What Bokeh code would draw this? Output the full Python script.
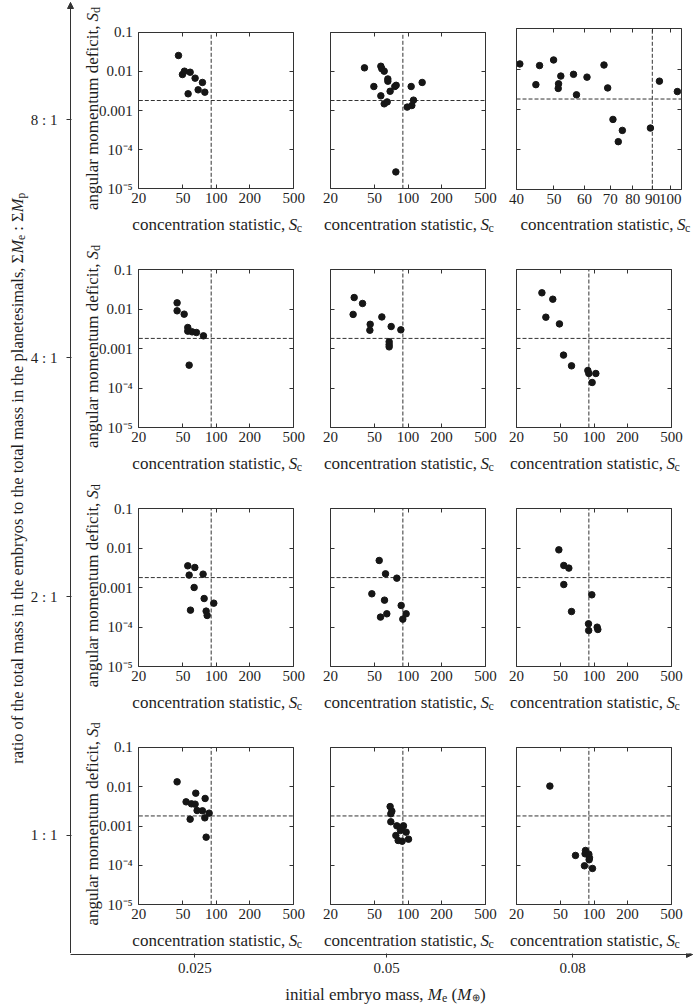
import math
from bokeh.plotting import figure
from bokeh.models import Range1d, FixedTicker, LogAxis, Arrow, NormalHead
from bokeh.core.properties import value
from bokeh.layouts import row, column
from bokeh.embed import file_html
from bokeh.resources import INLINE

FONT = "Liberation Serif"
AX = "#333333"
TXT = "#1e1e1e"
DOT = "#161616"
TICK_FS = "15px"
LAB_FS = "17px"
SUB_FS = "12px"
OUT_FS = "16.5px"
OUT_SUB_FS = "11.5px"

# ---------------- data ----------------
ratios = ["8 : 1", "4 : 1", "2 : 1", "1 : 1"]
masses = ["0.025", "0.05", "0.08"]
sc_ticks = [20, 50, 100, 200, 500]
sc_ticks_zoom = [40, 50, 60, 70, 80, 90, 100]
sd_ticks = [1e-5, 1e-4, 1e-3, 1e-2, 1e-1]
sd_tick_labels = ["10⁻⁵", "10⁻⁴", "0.001", "0.01", "0.1"]
sc_range = [20, 500]
sc_range_zoom = [40, 107]
sd_range = [1e-5, 0.1]
sc_solar = 89.9
sd_solar = 0.0018

# ratio 8:1
sc_8_025 = [45.6, 49.5, 51.6, 58.1, 64.4, 75.0, 55.7, 68.6, 78.8]
sd_8_025 = [0.0254, 0.0083, 0.0101, 0.0095, 0.0067, 0.0052, 0.00267, 0.00337, 0.00294]
sc_8_05 = [40.5, 56.9, 58.1, 61.0, 65.8, 65.8, 49.2, 69.0, 76.0, 78.2, 56.9, 61.0, 64.9,
           106.8, 134.2, 98.3, 108.3, 112.1, 77.7]
sd_8_05 = [0.0123, 0.0135, 0.0116, 0.0101, 0.0064, 0.0056, 0.0041, 0.0031, 0.0041, 0.0044,
           0.00237, 0.00148, 0.00166, 0.0041, 0.0052, 0.00122, 0.00134, 0.00184, 2.7e-5]
sc_8_08 = [40.8, 45.9, 49.9, 44.9, 52.1, 56.2, 60.9, 51.4, 51.3, 57.2, 67.4, 68.9, 93.8,
           104.4, 71.1, 75.2, 73.4, 88.9]
sd_8_08 = [0.0134, 0.0122, 0.0168, 0.0041, 0.0067, 0.0074, 0.0063, 0.0043, 0.0033, 0.00229,
           0.0126, 0.0034, 0.0050, 0.00276, 0.00056, 0.000299, 0.000157, 0.000342]
# ratio 4:1
sc_4_025 = [44.3, 44.3, 51.3, 55.3, 55.3, 60.5, 66.2, 76.6, 56.9]
sd_4_025 = [0.0143, 0.0090, 0.0074, 0.0034, 0.00275, 0.00264, 0.00254, 0.00209, 0.000379]
sc_4_05 = [32.7, 38.9, 32.0, 58.1, 45.6, 45.3, 70.5, 86.2, 67.6, 67.6, 67.6]
sd_4_05 = [0.0195, 0.0138, 0.0073, 0.0063, 0.0041, 0.0029, 0.0036, 0.00297, 0.00148, 0.00126, 0.00110]
sc_4_08 = [33.9, 42.5, 36.8, 48.8, 53.1, 62.7, 88.0, 89.8, 103.9, 96.2]
sd_4_08 = [0.0257, 0.0177, 0.0062, 0.0042, 0.00068, 0.000364, 0.000277, 0.000233, 0.000233, 0.000138]
# ratio 2:1
sc_2_025 = [55.3, 64.0, 56.9, 76.0, 63.1, 77.7, 94.9, 58.5, 81.0, 82.7]
sd_2_025 = [0.00358, 0.00325, 0.00208, 0.00220, 0.00101, 0.00053, 0.000404, 0.000269, 0.000254, 0.000197]
sc_2_05 = [55.0, 62.7, 79.3, 47.2, 61.4, 86.8, 56.5, 64.4, 96.2, 89.8]
sd_2_05 = [0.00489, 0.00224, 0.00174, 0.000698, 0.000482, 0.000353, 0.000179, 0.000217, 0.000217, 0.000159]
sc_2_08 = [48.2, 53.4, 59.3, 53.4, 95.6, 62.7, 89.2, 89.5, 106.8, 108.3]
sd_2_08 = [0.0091, 0.00365, 0.00313, 0.00120, 0.000658, 0.000248, 0.000121, 0.0000819, 0.0000995, 0.0000869]
# ratio 1:1
sc_1_025 = [44.3, 65.3, 79.3, 53.4, 59.7, 64.4, 67.1, 75.0, 86.2, 58.1, 78.8, 81.0]
sd_1_025 = [0.0132, 0.0068, 0.0050, 0.0041, 0.00365, 0.00358, 0.00247, 0.00243, 0.00212, 0.00149,
            0.00161, 0.000521]
sc_1_05 = [69.0, 71.5, 70.0, 70.0, 79.3, 91.0, 85.5, 96.2, 77.7, 81.5, 88.5, 101.1, 86.5]
sd_1_05 = [0.00311, 0.00238, 0.00204, 0.00128, 0.00101, 0.00101, 0.000769, 0.000698, 0.000574,
           0.000429, 0.000412, 0.000463, 0.00088]
sc_1_08 = [40.0, 68.1, 83.8, 83.1, 89.8, 91.0, 90.4, 82.0, 96.9]
sd_1_08 = [0.0103, 0.000179, 0.000239, 0.000197, 0.000193, 0.000156, 0.000139, 0.0000977, 0.0000836]

panel_data = [
    [(sc_8_025, sd_8_025), (sc_8_05, sd_8_05), (sc_8_08, sd_8_08)],
    [(sc_4_025, sd_4_025), (sc_4_05, sd_4_05), (sc_4_08, sd_4_08)],
    [(sc_2_025, sd_2_025), (sc_2_05, sd_2_05), (sc_2_08, sd_2_08)],
    [(sc_1_025, sd_1_025), (sc_1_05, sd_1_05), (sc_1_08, sd_1_08)],
]

# ---------------- layout (page pixels) ----------------
W, H = 695, 1005
LEFT_W = 78
COL_CANVAS = [(78, 310), (310, 500), (500, 695)]
COL_BOX = [(138.3, 293.3), (330.0, 485.0), (516.0, 671.0)]
ROW_CANVAS = [(0, 242), (242, 481), (481, 720), (720, 953)]
ROW_BOX = [(31.7, 188.3), (269.0, 427.0), (508.3, 666.0), (746.7, 904.3)]
SPECIAL = (0, 2)
SPECIAL_BOX = ((516.0, 681.0), (28.3, 189.3))
GRID_H = ROW_CANVAS[-1][1]
AXIS_X = 70.0      # outer vertical axis
AXIS_Y = 954.0     # outer horizontal axis
ARROW_TOP = 2.0
ARROW_RIGHT = 692.0


def style_axis(ax, tin=4, tout=0, standoff=4):
    ax.major_tick_in = tin
    ax.major_tick_out = tout
    ax.minor_tick_line_color = None
    ax.axis_line_color = AX
    ax.major_tick_line_color = AX
    ax.major_label_text_font = FONT
    ax.major_label_text_font_size = TICK_FS
    ax.major_label_text_color = TXT
    ax.major_label_standoff = standoff


def text(p, xs, ys, t, size=LAB_FS, style="normal", align="left", angle=0.0):
    p.text(x=[xs], y=[ys], text=[t], text_font=value(FONT), text_font_size=size,
           text_font_style=style, text_color=TXT, text_align=align,
           text_baseline="alphabetic", angle=angle)


def make_panel(ri, ci):
    special = (ri, ci) == SPECIAL
    (cx0, cx1), (cy0, cy1) = COL_CANVAS[ci], ROW_CANVAS[ri]
    if special:
        (bx0, bx1), (by0, by1) = SPECIAL_BOX
        xr, xt = sc_range_zoom, sc_ticks_zoom
    else:
        (bx0, bx1), (by0, by1) = COL_BOX[ci], ROW_BOX[ri]
        xr, xt = sc_range, sc_ticks
    lx0, lx1 = math.log10(xr[0]), math.log10(xr[1])
    ly0, ly1 = math.log10(sd_range[0]), math.log10(sd_range[1])
    kx = (bx1 - bx0) / (lx1 - lx0)
    ky = (by1 - by0) / (ly1 - ly0)
    x_start = 10 ** (lx0 - (bx0 - cx0) / kx)
    x_end = 10 ** (lx1 + (cx1 - bx1) / kx)
    y_start = 10 ** (ly0 - (cy1 - by1) / ky)
    y_end = 10 ** (ly1 + (by0 - cy0) / ky)

    def dx(px):
        return 10 ** (lx0 + (px - bx0) / kx)

    def dy(py):
        return 10 ** (ly0 + (by1 - py) / ky)

    p = figure(width=cx1 - cx0, height=cy1 - cy0, x_axis_type="log", y_axis_type="log",
               x_range=Range1d(x_start, x_end), y_range=Range1d(y_start, y_end),
               min_border=0, min_border_left=0, min_border_right=0, min_border_top=0,
               min_border_bottom=0, toolbar_location=None, output_backend="svg")
    p.grid.visible = False
    p.outline_line_color = None
    p.background_fill_color = "white"
    p.border_fill_color = "white"

    xa = p.xaxis[0]
    xa.ticker = FixedTicker(ticks=xt)
    xa.major_label_overrides = {t: str(t) for t in xt}
    xa.fixed_location = sd_range[0]
    xa.bounds = (xr[0], xr[1])
    style_axis(xa, standoff=4)

    ya = p.yaxis[0]
    ya.ticker = FixedTicker(ticks=sd_ticks)
    if ci == 0:
        ya.major_label_overrides = dict(zip(sd_ticks, sd_tick_labels))
    else:
        ya.major_label_overrides = {t: "" for t in sd_ticks}
    ya.fixed_location = xr[0]
    ya.bounds = (sd_range[0], sd_range[1])
    style_axis(ya, standoff=6)

    top = LogAxis(ticker=FixedTicker(ticks=xt), major_label_overrides={t: "" for t in xt},
                  fixed_location=sd_range[1], bounds=(xr[0], xr[1]))
    style_axis(top, standoff=0)
    p.add_layout(top, "above")
    right = LogAxis(ticker=FixedTicker(ticks=sd_ticks), major_label_overrides={t: "" for t in sd_ticks},
                    fixed_location=xr[1], bounds=(sd_range[0], sd_range[1]))
    style_axis(right, standoff=0)
    p.add_layout(right, "right")

    # solar-system reference values
    p.segment(x0=[sc_solar], y0=[sd_range[0]], x1=[sc_solar], y1=[sd_range[1]],
              line_color=AX, line_dash="4 2", line_width=1)
    p.segment(x0=[xr[0]], y0=[sd_solar], x1=[xr[1]], y1=[sd_solar],
              line_color=AX, line_dash="4 2", line_width=1)

    sc, sd = panel_data[ri][ci]
    p.scatter(sc, sd, size=6.5, fill_color=DOT, line_color=DOT)

    # x label: concentration statistic, S_c
    xc = (bx0 + bx1) / 2 + (5.5 if special else 0)
    base = by1 + (35.0 if special else 36.0)
    text(p, dx(xc + 69), dy(base), "concentration statistic,", align="right")
    text(p, dx(xc + 72.5), dy(base), "S", style="italic")
    text(p, dx(xc + 80.5), dy(base + 3.5), "c", size=SUB_FS)

    # y label: angular momentum deficit, S_d
    if ci == 0:
        yc = (by0 + by1) / 2
        bx = bx0 - 46
        text(p, dx(bx), dy(yc - 85), "angular momentum deficit,", align="right", angle=math.pi / 2)
        text(p, dx(bx), dy(yc - 89), "S", style="italic", angle=math.pi / 2)
        text(p, dx(bx + 3.5), dy(yc - 97.5), "d", size=SUB_FS, angle=math.pi / 2)
    return p


panels = [[make_panel(r, c) for c in range(3)] for r in range(4)]

# ---------------- outer category axes ----------------
row_ticks = [GRID_H - ((b0 + b1) / 2 + 9.0) for (b0, b1) in ROW_BOX]   # data y = GRID_H - page y
col_ticks = [(b0 + b1) / 2 - 21.5 for (b0, b1) in COL_BOX]

left = figure(width=LEFT_W, height=GRID_H, x_range=Range1d(0, LEFT_W), y_range=Range1d(0, GRID_H),
              min_border=0, min_border_left=0, min_border_right=0, min_border_top=0,
              min_border_bottom=0, x_axis_location=None, toolbar_location=None,
              output_backend="svg")
left.grid.visible = False
left.outline_line_color = None
left.border_fill_color = "white"
la = left.yaxis[0]
la.ticker = FixedTicker(ticks=row_ticks)
la.major_label_overrides = dict(zip(row_ticks, ratios))
la.fixed_location = AXIS_X
la.bounds = (0, GRID_H - ARROW_TOP)
style_axis(la, tin=1, tout=4, standoff=9)
left.add_layout(Arrow(end=NormalHead(size=6, fill_color=AX, line_color=AX, line_width=1),
                      x_start=AXIS_X, y_start=GRID_H - ARROW_TOP - 20, x_end=AXIS_X,
                      y_end=GRID_H - ARROW_TOP, line_color=AX, line_width=1))


# vertical outer title, composed so that M is italic and e, p are subscripts (page coords)
def ly(py):
    return GRID_H - py


VX = 17.0
ang = math.pi / 2
text(left, VX, ly(267), "ratio of the total mass in the embryos to the total mass in the planetesimals,",
     size=OUT_FS, align="right", angle=ang)
text(left, VX, ly(262.9), "Σ", size=OUT_FS, angle=ang)
text(left, VX, ly(253.1), "M", size=OUT_FS, style="italic", angle=ang)
text(left, VX + 3.5, ly(239.4), "e", size=OUT_SUB_FS, angle=ang)
text(left, VX, ly(230.2), ":", size=OUT_FS, angle=ang)
text(left, VX, ly(221.5), "Σ", size=OUT_FS, angle=ang)
text(left, VX, ly(211.7), "M", size=OUT_FS, style="italic", angle=ang)
text(left, VX + 3.5, ly(198.0), "p", size=OUT_SUB_FS, angle=ang)

BOT_H = H - GRID_H
bottom = figure(width=W, height=BOT_H, x_range=Range1d(0, W), y_range=Range1d(0, BOT_H),
                min_border=0, min_border_left=0, min_border_right=0, min_border_top=0,
                min_border_bottom=0, y_axis_location=None, toolbar_location=None,
                output_backend="svg")
bottom.grid.visible = False
bottom.outline_line_color = None
bottom.border_fill_color = "white"
ba = bottom.xaxis[0]
ba.ticker = FixedTicker(ticks=col_ticks)
ba.major_label_overrides = dict(zip(col_ticks, masses))
ba.fixed_location = H - AXIS_Y
ba.bounds = (AXIS_X, ARROW_RIGHT)
style_axis(ba, tin=4, tout=3, standoff=5)
bottom.add_layout(Arrow(end=NormalHead(size=6, fill_color=AX, line_color=AX, line_width=1),
                        x_start=ARROW_RIGHT - 20, y_start=H - AXIS_Y, x_end=ARROW_RIGHT,
                        y_end=H - AXIS_Y, line_color=AX, line_width=1))


# horizontal outer title "initial embryo mass, M_e (M_⊕)"
def by(py):
    return H - py


BASE = 993.5
text(bottom, 423, by(BASE), "initial embryo mass,", size=LAB_FS, align="right")
text(bottom, 427.3, by(BASE), "M", size=LAB_FS, style="italic")
text(bottom, 441.5, by(BASE + 3.5), "e", size=SUB_FS)
text(bottom, 451, by(BASE), "(", size=LAB_FS)
text(bottom, 456.7, by(BASE), "M", size=LAB_FS, style="italic")
text(bottom, 471, by(BASE + 3.5), "⊕", size="10px")
text(bottom, 479.5, by(BASE), ")", size=LAB_FS)

grid = column(*[row(*panels[r]) for r in range(4)])
layout = column(row(left, grid), bottom)

open("out.html", "w").write(file_html(layout, INLINE))
